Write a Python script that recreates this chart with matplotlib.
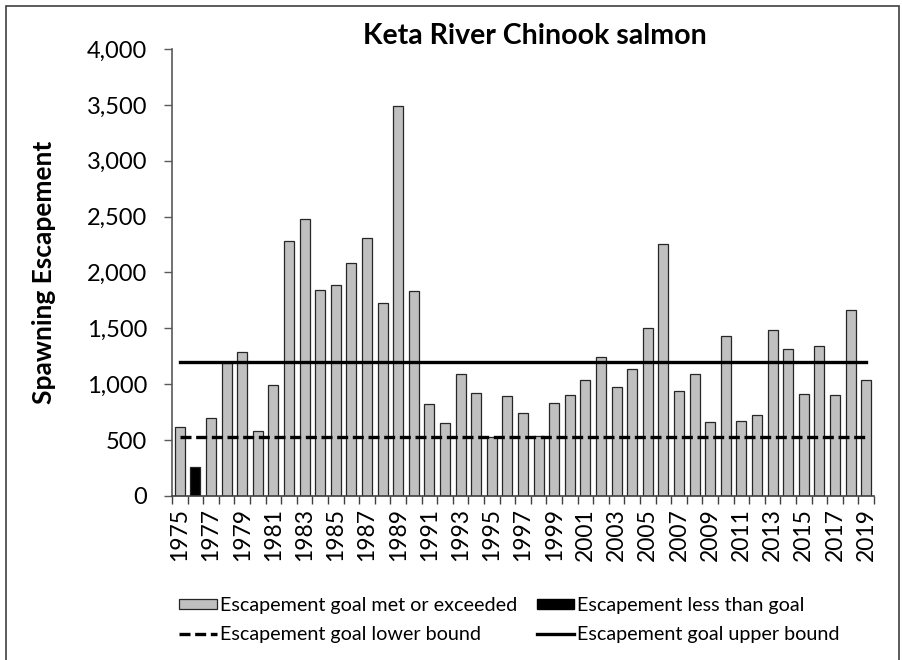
"""Keta River Chinook salmon spawning escapement, 1975-2019."""

import matplotlib

matplotlib.use("Agg")
import matplotlib.pyplot as plt
import numpy as np
from matplotlib.lines import Line2D
from matplotlib.patches import Patch, Rectangle
from matplotlib.ticker import FuncFormatter

years = list(range(1975, 2020))
escapement = [615, 257, 695, 1188, 1287, 579, 991, 2278, 2481, 1842,
              1884, 2081, 2313, 1731, 3487, 1830, 821, 657, 1096, 925,
              531, 896, 740, 535, 833, 904, 1036, 1242, 973, 1134,
              1499, 2251, 940, 1096, 660, 1430, 675, 728, 1487, 1319,
              916, 1346, 904, 1663, 1042]
goal_lower = 525
goal_upper = 1200

plt.rcParams["font.family"] = ["Lato", "DejaVu Sans"]

fig = plt.figure(figsize=(9.02, 6.6), dpi=100)
ax = fig.add_axes([0.1907, 0.2485, 0.7783, 0.6773])

x = np.arange(len(years))
vals = np.array(escapement)
colors = np.where(vals < goal_lower, "black", "#C0C0C0")
ax.bar(x, vals, width=0.64, color=colors, edgecolor="#262626", linewidth=0.9, zorder=2)

dash = (0, (3.3, 1.4))
ax.plot([x[0], x[-1]], [goal_lower, goal_lower], color="black", lw=2.4, ls=dash, zorder=3)
ax.plot([x[0], x[-1]], [goal_upper, goal_upper], color="black", lw=2.4, zorder=3)

ax.set_xlim(-0.5, len(years) - 0.5)
ax.set_ylim(0, 4000)
ax.set_yticks(np.arange(0, 4001, 500))
ax.yaxis.set_major_formatter(FuncFormatter(lambda v, p: f"{int(v):,}"))
ax.tick_params(axis="y", direction="out", length=6, width=1, color="#595959",
               labelsize=17, pad=12)

# ticks between categories, labels every other year
ax.set_xticks(np.arange(-0.5, len(years), 1.0))
ax.set_xticklabels([])
ax.tick_params(axis="x", which="major", direction="out", length=6, width=1, color="#404040")
ax.set_xticks(x[::2], minor=True)
ax.set_xticklabels([str(y) for y in years[::2]], minor=True, rotation=90)
ax.tick_params(axis="x", which="minor", length=0, labelsize=16.5, pad=9)

for s in ["top", "right"]:
    ax.spines[s].set_visible(False)
ax.spines["left"].set_color("#595959")
ax.spines["bottom"].set_color("#404040")
ax.spines["left"].set_linewidth(1.2)
ax.spines["bottom"].set_linewidth(1.2)

ax.set_ylabel("Spawning Escapement", fontsize=19, fontweight="bold", labelpad=22)
fig.text(0.593, 0.925, "Keta River Chinook salmon", ha="center", va="bottom",
         fontsize=20.5, fontweight="bold")

handles = [
    Patch(facecolor="#C0C0C0", edgecolor="#262626", linewidth=0.9),
    Line2D([], [], color="black", lw=2.4, ls=dash),
    Patch(facecolor="black", edgecolor="black"),
    Line2D([], [], color="black", lw=2.4),
]
labels = ["Escapement goal met or exceeded", "Escapement goal lower bound",
          "Escapement less than goal", "Escapement goal upper bound"]
fig.legend(handles, labels, ncol=2, loc="center", bbox_to_anchor=(0.565, 0.0605),
           frameon=False, fontsize=14.2, handlelength=1.9, handleheight=0.45,
           handletextpad=0.15, columnspacing=1.0, labelspacing=0.6)

fig.patches.append(Rectangle((6 / 902, -0.1), 893 / 902, 1.1 - 6 / 660,
                             transform=fig.transFigure, fill=False,
                             edgecolor="#404040", linewidth=1.2))

fig.savefig("out.png", dpi=100)
